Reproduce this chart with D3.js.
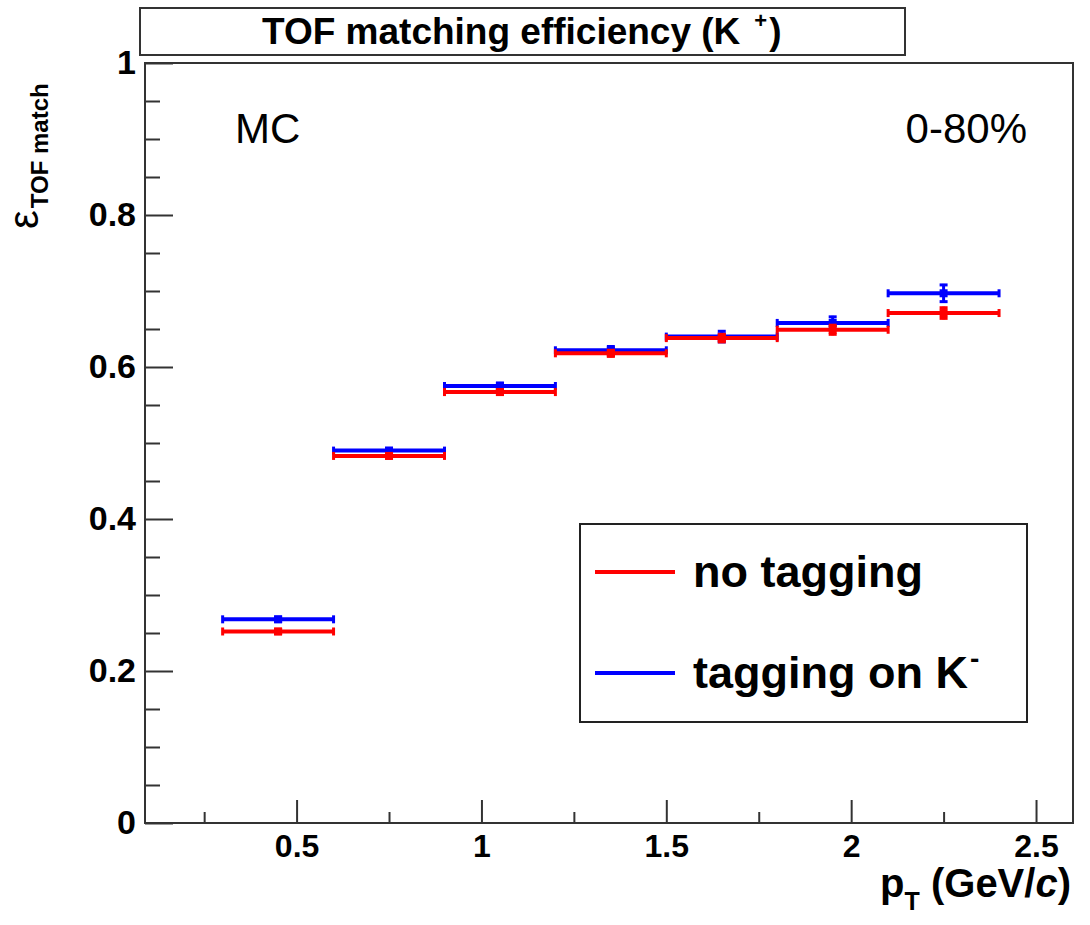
<!DOCTYPE html>
<html>
<head>
<meta charset="utf-8">
<script src="https://cdn.jsdelivr.net/npm/d3@7"></script>
<style>
  body { margin: 0; background: #fff; }
  text { font-family: "Liberation Sans", Arial, sans-serif; }
</style>
</head>
<body>
<script>
// bins in pT (GeV/c)
var binLow = [0.3, 0.6, 0.9, 1.2, 1.5, 1.8, 2.1];
var binHigh = [0.6, 0.9, 1.2, 1.5, 1.8, 2.1, 2.4];

// efficiency values
var noTagging = [0.252, 0.483, 0.567, 0.618, 0.638, 0.649, 0.671];
var noTaggingErr = [0.003, 0.003, 0.003, 0.004, 0.005, 0.006, 0.007];
var taggingK = [0.268, 0.490, 0.575, 0.622, 0.640, 0.658, 0.697];
var taggingKErr = [0.003, 0.003, 0.004, 0.005, 0.007, 0.008, 0.011];

// axis ticks
var xMajor = [0.5, 1, 1.5, 2, 2.5];
var xMinor = [0.25, 0.75, 1.25, 1.75, 2.25];
var yMajor = [0, 0.2, 0.4, 0.6, 0.8, 1];
var yMinor = [0.05, 0.1, 0.15, 0.25, 0.3, 0.35, 0.45, 0.5, 0.55, 0.65, 0.7, 0.75, 0.85, 0.9, 0.95];

var legendLabels = ["no tagging", "tagging on K"];
var seriesColors = ["#f00", "#0000ff"];

var width = 1090, height = 925;
var frame = {left: 145, top: 63, right: 1073, bottom: 823};

var x = d3.scaleLinear().domain([0.09, 2.6]).range([frame.left, frame.right]);
var y = d3.scaleLinear().domain([0, 1]).range([frame.bottom, frame.top]);

var svg = d3.select("body").append("svg")
    .attr("width", width)
    .attr("height", height);

svg.append("rect").attr("width", width).attr("height", height).attr("fill", "#fff");

// title box
svg.append("rect")
    .attr("x", 140).attr("y", 8)
    .attr("width", 765).attr("height", 47)
    .attr("fill", "#fff").attr("stroke", "#333").attr("stroke-width", 2);

var title = svg.append("text")
    .attr("x", 262).attr("y", 44)
    .attr("font-size", 37).attr("font-weight", "bold");
title.append("tspan").text("TOF matching efficiency (K");
title.append("tspan").attr("dx", 14).attr("dy", -16).attr("font-size", 22).text("+");
title.append("tspan").attr("dx", 2).attr("dy", 16).text(")");

// axes (ticks point inside the frame)
var yAxis = svg.append("g")
    .attr("transform", "translate(" + frame.left + ",0)")
    .call(d3.axisLeft(y).tickValues(yMajor).tickSize(-28).tickPadding(9)
        .tickFormat(function (d) { return d === 0 || d === 1 ? d : d3.format(".1f")(d); }));
yAxis.selectAll("text").attr("font-size", 34).attr("font-weight", "bold")
    .attr("font-family", "Liberation Sans, Arial, sans-serif").attr("fill", "#000");

svg.append("g")
    .attr("transform", "translate(" + frame.left + ",0)")
    .call(d3.axisLeft(y).tickValues(yMinor).tickSize(-15).tickFormat(""));

var xAxis = svg.append("g")
    .attr("transform", "translate(0," + frame.bottom + ")")
    .call(d3.axisBottom(x).tickValues(xMajor).tickSize(-23).tickPadding(11)
        .tickFormat(function (d) { return d; }));
xAxis.selectAll("text").attr("font-size", 32).attr("font-weight", "bold")
    .attr("font-family", "Liberation Sans, Arial, sans-serif").attr("fill", "#000");

svg.append("g")
    .attr("transform", "translate(0," + frame.bottom + ")")
    .call(d3.axisBottom(x).tickValues(xMinor).tickSize(-11).tickFormat(""));

svg.selectAll(".domain").remove();
svg.selectAll(".tick line").attr("stroke", "#333").attr("stroke-width", 2);

// frame
svg.append("rect")
    .attr("x", frame.left).attr("y", frame.top)
    .attr("width", frame.right - frame.left).attr("height", frame.bottom - frame.top)
    .attr("fill", "none").attr("stroke", "#333").attr("stroke-width", 2);

// axis titles
var yTitle = svg.append("text")
    .attr("transform", "translate(38,229) rotate(-90)");
yTitle.append("tspan").attr("font-size", 42).text("ε");
yTitle.append("tspan").attr("dx", 2).attr("dy", 10).attr("font-size", 24).attr("font-weight", "bold").text("TOF match");

var xTitle = svg.append("text")
    .attr("x", 1071).attr("y", 897)
    .attr("text-anchor", "end")
    .attr("font-size", 40).attr("font-weight", "bold");
xTitle.append("tspan").text("p");
xTitle.append("tspan").attr("dy", 13).attr("font-size", 25).text("T");
xTitle.append("tspan").attr("dy", -13).text(" (GeV/");
xTitle.append("tspan").attr("font-style", "italic").text("c");
xTitle.append("tspan").text(")");

// data series, blue first so red sits on top
function drawSeries(values, errs, color) {
    var g = svg.append("g").attr("stroke", color).attr("fill", color);
    var rows = values.map(function (v, i) {
        return {lo: binLow[i], hi: binHigh[i], c: (binLow[i] + binHigh[i]) / 2, v: v, e: errs[i]};
    });
    var bins = g.selectAll("g").data(rows).enter().append("g");
    bins.append("line")
        .attr("x1", function (d) { return x(d.lo); })
        .attr("x2", function (d) { return x(d.hi); })
        .attr("y1", function (d) { return y(d.v); })
        .attr("y2", function (d) { return y(d.v); })
        .attr("stroke-width", 4);
    // end caps of the horizontal bars
    [function (d) { return x(d.lo); }, function (d) { return x(d.hi); }].forEach(function (fx) {
        bins.append("line")
            .attr("x1", fx).attr("x2", fx)
            .attr("y1", function (d) { return y(d.v) - 4; })
            .attr("y2", function (d) { return y(d.v) + 4; })
            .attr("stroke-width", 3);
    });
    // vertical error bars with caps
    bins.append("line")
        .attr("x1", function (d) { return x(d.c); })
        .attr("x2", function (d) { return x(d.c); })
        .attr("y1", function (d) { return y(d.v - d.e) + 1; })
        .attr("y2", function (d) { return y(d.v + d.e) - 1; })
        .attr("stroke-width", 3);
    [-1, 1].forEach(function (s) {
        bins.append("line")
            .attr("x1", function (d) { return x(d.c) - 4; })
            .attr("x2", function (d) { return x(d.c) + 4; })
            .attr("y1", function (d) { return y(d.v + s * d.e); })
            .attr("y2", function (d) { return y(d.v + s * d.e); })
            .attr("stroke-width", 3);
    });
    bins.append("rect")
        .attr("x", function (d) { return x(d.c) - 4; })
        .attr("y", function (d) { return y(d.v) - 4; })
        .attr("width", 8).attr("height", 8)
        .attr("stroke", "none");
}
drawSeries(taggingK, taggingKErr, seriesColors[1]);
drawSeries(noTagging, noTaggingErr, seriesColors[0]);

// corner labels
svg.append("text").attr("x", 235).attr("y", 143)
    .attr("font-family", "Lato, 'Open Sans', sans-serif").attr("font-size", 42).text("MC");
svg.append("text").attr("x", 1027).attr("y", 143).attr("text-anchor", "end")
    .attr("font-family", "Lato, 'Open Sans', sans-serif").attr("font-size", 42).text("0-80%");

// legend
var legend = svg.append("g");
legend.append("rect")
    .attr("x", 580).attr("y", 524).attr("width", 447).attr("height", 198)
    .attr("fill", "#fff").attr("stroke", "#222").attr("stroke-width", 2);
var legendY = [572, 673];
legendLabels.forEach(function (label, i) {
    legend.append("line")
        .attr("x1", 595).attr("x2", 675)
        .attr("y1", legendY[i]).attr("y2", legendY[i])
        .attr("stroke", seriesColors[i]).attr("stroke-width", 4);
    var t = legend.append("text")
        .attr("x", 693).attr("y", legendY[i] + 15)
        .attr("font-size", 45).attr("font-weight", "bold");
    t.append("tspan").text(label);
    if (i === 1) {
        t.append("tspan").attr("dx", 2).attr("dy", -20).attr("font-size", 28).text("-");
    }
});
</script>
</body>
</html>
